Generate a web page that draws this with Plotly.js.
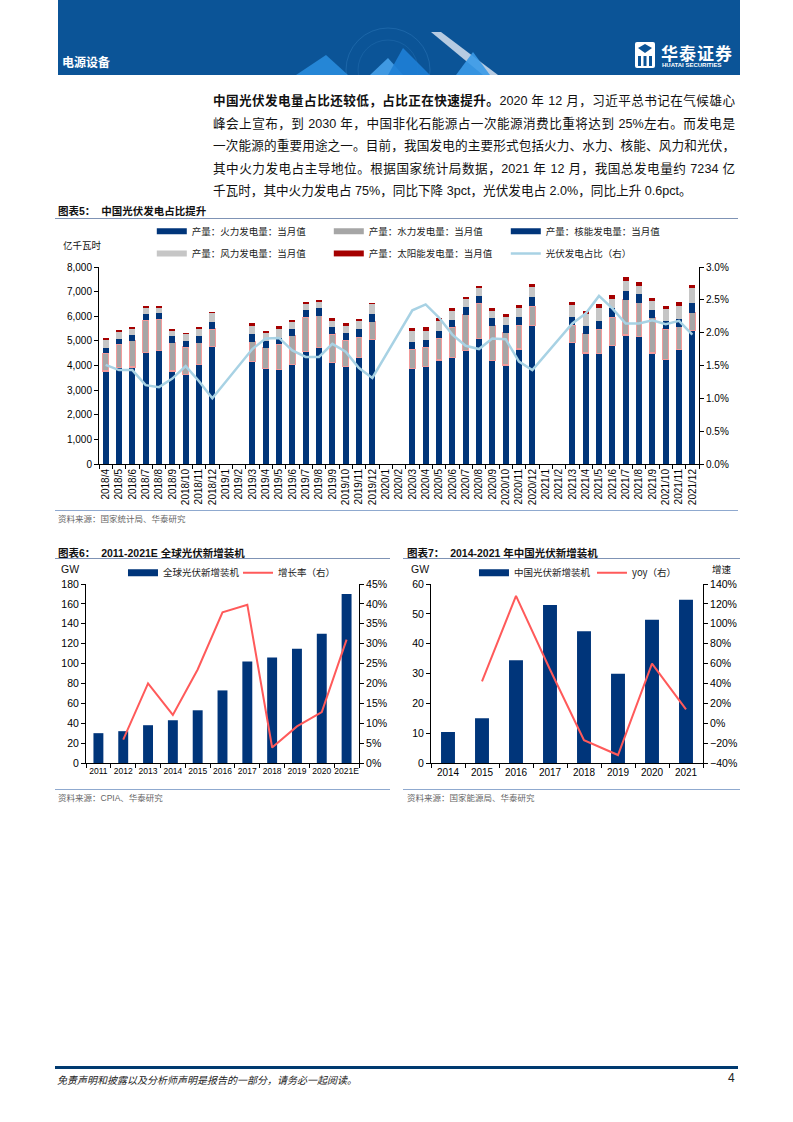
<!DOCTYPE html>
<html><head><meta charset="utf-8">
<script src="https://cdn.plot.ly/plotly-3.0.1.min.js"></script>
<style>
body{margin:0;background:#fff;}
#page{position:relative;width:793px;height:1122px;overflow:hidden;background:#fff;font-family:"Liberation Sans","Noto Sans CJK SC",sans-serif;color:#111;}
.abs{position:absolute;}
.tl{position:absolute;left:213px;width:522px;font-size:12.6px;line-height:22.5px;height:22.5px;text-align:justify;text-align-last:justify;color:#111;}
.ctitle{position:absolute;font-size:10.5px;font-weight:bold;color:#111;white-space:nowrap;}
.hline{position:absolute;height:0;border-top:1px solid #7f93b5;}
.src{position:absolute;font-size:8.5px;color:#666;white-space:nowrap;}
</style></head>
<body><div id="page">
<!-- banner -->
<div class="abs" style="left:58px;top:0;width:682px;height:75px;background:#0b5497;overflow:hidden;">
<svg width="682" height="75" style="position:absolute;left:0;top:0">
  <circle cx="330" cy="70" r="42" fill="none" stroke="#3b86c8" stroke-width="0.6" opacity="0.6"/>
  <circle cx="330" cy="70" r="30" fill="none" stroke="#3b86c8" stroke-width="0.5" opacity="0.5"/>
  <polygon points="238,75 268,55 290,75" fill="#2a8fe0" opacity="0.85"/>
  <polygon points="312,75 330,58 345,75" fill="#4aa6ee" opacity="0.85"/>
  <polygon points="330,75 345,48 372,75" fill="#1e7fd6" opacity="0.9"/>
  <polygon points="373,32 383,32 440,75 425,75" fill="#c9d8ea" opacity="0.9"/>
  <polygon points="398,75 415,52 432,75" fill="#3a9ae8" opacity="0.9"/>
</svg>
<div class="abs" style="left:4px;top:53px;font-size:12px;font-weight:bold;color:#fff;">电源设备</div>
<svg class="abs" style="left:577px;top:42px" width="20" height="26">
  <rect x="0" y="0" width="20" height="26" rx="2" fill="#fff"/>
  <polygon points="3,6 10,2 17,6 10,11" fill="#0b5497"/>
  <rect x="3" y="14" width="3" height="10" fill="#0b5497"/>
  <rect x="8.5" y="14" width="3" height="10" fill="#0b5497"/>
  <rect x="14" y="14" width="3" height="10" fill="#0b5497"/>
</svg>
<div class="abs" style="left:603px;top:40px;font-size:17px;font-weight:bold;color:#fff;letter-spacing:1px;white-space:nowrap;">华泰证券</div>
<div class="abs" style="left:604px;top:62px;font-size:6px;font-weight:bold;color:#fff;white-space:nowrap;">HUATAI SECURITIES</div>
</div>

<!-- paragraph -->
<div class="tl" style="top:90px;"><b>中国光伏发电量占比还较低，占比正在快速提升。</b>2020 年 12 月，习近平总书记在气候雄心</div>
<div class="tl" style="top:112.5px;">峰会上宣布，到 2030 年，中国非化石能源占一次能源消费比重将达到 25%左右。而发电是</div>
<div class="tl" style="top:135px;">一次能源的重要用途之一。目前，我国发电的主要形式包括火力、水力、核能、风力和光伏，</div>
<div class="tl" style="top:157.5px;">其中火力发电占主导地位。根据国家统计局数据，2021 年 12 月，我国总发电量约 7234 亿</div>
<div class="tl" style="top:180px;text-align-last:left;">千瓦时，其中火力发电占 75%，同比下降 3pct，光伏发电占 2.0%，同比上升 0.6pct。</div>

<!-- chart 5 -->
<div class="ctitle" style="left:58px;top:203px;">图表5：&nbsp; 中国光伏发电占比提升</div>
<div class="hline" style="left:55px;top:218px;width:683px;"></div>
<div id="c5" class="abs" style="left:55px;top:222px;width:685px;height:286px;"></div>
<div class="hline" style="left:55px;top:510px;width:683px;border-color:#8fa9cf;"></div>
<div class="src" style="left:58px;top:512px;">资料来源：国家统计局、华泰研究</div>

<!-- chart 6 -->
<div class="ctitle" style="left:58px;top:545px;">图表6：&nbsp; 2011-2021E 全球光伏新增装机</div>
<div class="hline" style="left:55px;top:558px;width:335px;"></div>
<div id="c6" class="abs" style="left:55px;top:560px;width:340px;height:225px;"></div>
<div class="hline" style="left:55px;top:789px;width:335px;border-color:#8fa9cf;"></div>
<div class="src" style="left:58px;top:791px;">资料来源：CPIA、华泰研究</div>

<!-- chart 7 -->
<div class="ctitle" style="left:407px;top:545px;">图表7：&nbsp; 2014-2021 年中国光伏新增装机</div>
<div class="hline" style="left:403px;top:558px;width:337px;"></div>
<div id="c7" class="abs" style="left:400px;top:560px;width:345px;height:225px;"></div>
<div class="hline" style="left:403px;top:789px;width:337px;border-color:#8fa9cf;"></div>
<div class="src" style="left:407px;top:791px;">资料来源：国家能源局、华泰研究</div>

<!-- footer -->
<div class="abs" style="left:55px;top:1066px;width:683px;height:3px;background:#003a70;"></div>
<div class="abs" style="left:57px;top:1072px;font-size:10px;font-style:italic;color:#222;white-space:nowrap;">免责声明和披露以及分析师声明是报告的一部分，请务必一起阅读。</div>
<div class="abs" style="left:728px;top:1071px;font-size:12px;color:#222;">4</div>
</div>

<script>
// ---------- Chart 5 data ----------
var months = ['2018/4','2018/5','2018/6','2018/7','2018/8','2018/9','2018/10','2018/11','2018/12',
  '2019/1','2019/2','2019/3','2019/4','2019/5','2019/6','2019/7','2019/8','2019/9','2019/10','2019/11','2019/12',
  '2020/1','2020/2','2020/3','2020/4','2020/5','2020/6','2020/7','2020/8','2020/9','2020/10','2020/11','2020/12',
  '2021/1','2021/2','2021/3','2021/4','2021/5','2021/6','2021/7','2021/8','2021/9','2021/10','2021/11','2021/12'];
var thermal = [3780,3910,3940,4530,4600,3780,3630,4050,4760, null,null, 4160,3890,3830,4050,4560,4720,4130,3950,4320,5070, null,null, 3890,3970,4220,4320,4600,5100,4210,4020,4670,5640, null,null, 4940,4510,4490,4800,5240,5180,4510,4260,4640,5430];
var hydro = [710,950,1070,1300,1280,1150,1120,880,720, null,null, 810,830,1030,1160,1390,1300,1150,1080,820,710, null,null, 770,770,880,1240,1470,1420,1400,1320,970,770, null,null, 700,780,990,1160,1430,1370,1430,1220,930,720];
var nuclear = [210,230,230,260,270,250,240,250,300, null,null, 290,270,270,270,300,320,290,300,340,310, null,null, 310,310,300,280,310,310,330,300,310,380, null,null, 340,320,320,360,370,350,320,320,300,370];
var wind = [330,270,240,230,170,220,270,310,350, null,null, 350,350,350,270,230,250,250,280,320,390, null,null, 430,370,420,370,310,300,290,350,390,400, null,null, 470,500,520,400,410,330,350,480,550,610];
var solar = [80,90,80,90,90,90,80,70,60, null,null, 100,80,110,90,80,90,90,100,80,70, null,null, 130,140,120,110,110,100,90,100,110,100, null,null, 140,110,160,140,130,170,140,120,140,130];
var pvShare = [1.51,1.43,1.43,1.20,1.17,1.30,1.49,1.26,1.00, null,null, 1.75,1.91,1.92,1.73,1.63,1.63,1.83,1.71,1.46,1.31, null,null, 2.34,2.43,2.23,1.97,1.80,1.75,1.91,1.90,1.56,1.43, null,null, 2.14,2.29,2.56,2.37,2.14,2.14,2.19,2.13,2.18,1.97];
var names5 = ['产量：火力发电量：当月值','产量：水力发电量：当月值','产量：核能发电量：当月值','产量：风力发电量：当月值','产量：太阳能发电量：当月值','光伏发电占比（右）'];

// ---------- Chart 6 data ----------
var years6 = ['2011','2012','2013','2014','2015','2016','2017','2018','2019','2020','2021E'];
var globalAdd = [30,32,38,43,53,73,102,106,115,130,170];
var globalGrowth = [null,5.9,20.0,12.1,23.5,37.9,39.8,3.9,9.2,12.8,31.0];
var names6 = ['全球光伏新增装机','增长率（右）'];

// ---------- Chart 7 data ----------
var years7 = ['2014','2015','2016','2017','2018','2019','2020','2021'];
var chinaAdd = [10.4,15.0,34.4,53.0,44.2,29.9,48.0,54.7];
var chinaYoy = [null,42,128,54,-17,-32,60,14];
var names7 = ['中国光伏新增装机','yoy（右）'];

var BLUE = '#00357a', HYDRO = '#a6a6a6', HYDROLINE = '#f29a9a', WIND = '#c6c6c6', SOLAR = '#a50000', PVLINE = '#a8d2e4', RED = '#ff5a5a';
var FONT = 'Liberation Sans, Noto Sans CJK SC, sans-serif';
var CJK = 'Noto Sans CJK SC, sans-serif';
var cfg = {staticPlot:true, displayModeBar:false};

function legendEntry(name, color, width, leg){
  return {type:'scatter', mode:'lines', x:[null], y:[null], name:name, line:{color:color, width:width}, legend:leg, showlegend:true, hoverinfo:'skip'};
}
function axisBase(){
  return {showline:true, linecolor:'#000', linewidth:1, ticks:'outside', ticklen:4, tickcolor:'#000', showgrid:false, zeroline:false, tickfont:{family:FONT, size:10, color:'#000'}};
}
function legendBase(x, y, ew){
  return {orientation:'h', x:x, xanchor:'left', y:y, yanchor:'middle', entrywidth:ew, entrywidthmode:'pixels', itemwidth:30,
    traceorder:'normal', bgcolor:'rgba(0,0,0,0)', font:{family:CJK, size:9.5, color:'#222'}};
}
function note(x, y, text, fam, size){
  return {xref:'paper', yref:'paper', x:x, y:y, xanchor:'center', yanchor:'middle', text:text, showarrow:false, font:{family:fam, size:size, color:'#111'}};
}

// Chart 5
var t5 = [
  {type:'bar', x:months, y:thermal, marker:{color:BLUE}, showlegend:false},
  {type:'bar', x:months, y:hydro, marker:{color:HYDRO, line:{color:HYDROLINE, width:1.2}}, showlegend:false},
  {type:'bar', x:months, y:nuclear, marker:{color:BLUE}, showlegend:false},
  {type:'bar', x:months, y:wind, marker:{color:WIND}, showlegend:false},
  {type:'bar', x:months, y:solar, marker:{color:SOLAR}, showlegend:false},
  legendEntry(names5[0], BLUE, 6, 'legend'),
  legendEntry(names5[1], HYDRO, 6, 'legend'),
  legendEntry(names5[2], BLUE, 6, 'legend'),
  legendEntry(names5[3], WIND, 6, 'legend2'),
  legendEntry(names5[4], SOLAR, 6, 'legend2'),
  {type:'scatter', mode:'lines', x:months, y:pvShare, yaxis:'y2', connectgaps:true, name:names5[5], line:{color:PVLINE, width:2.5}, legend:'legend2'}
];
var x5 = axisBase(); x5.type='category'; x5.tickangle=-90; x5.tickson='boundaries'; x5.tickfont={family:FONT,size:10,color:'#000'};
var y5 = axisBase(); y5.range=[0,8000]; y5.dtick=1000; y5.tickformat=',';
var y52 = axisBase(); y52.overlaying='y'; y52.side='right'; y52.range=[0,3]; y52.dtick=0.5; y52.tickformat='.1f'; y52.ticksuffix='%';
Plotly.newPlot('c5', t5, {
  width:685, height:286, margin:{l:44, r:41, t:44.7, b:43.7, autoexpand:false},
  paper_bgcolor:'rgba(0,0,0,0)', plot_bgcolor:'rgba(0,0,0,0)', font:{family:FONT},
  barmode:'stack', bargap:0.57,
  xaxis:x5, yaxis:y5, yaxis2:y52,
  legend:legendBase(0.088, 1.181, 132), legend2:legendBase(0.088, 1.069, 132),
  annotations:[note(-0.027, 1.11, '亿千瓦时', CJK, 9.5)]
}, cfg);

// Chart 6
var t6 = [
  {type:'bar', x:years6, y:globalAdd, marker:{color:BLUE}, showlegend:false},
  legendEntry(names6[0], BLUE, 7, 'legend'),
  {type:'scatter', mode:'lines', x:years6, y:globalGrowth, yaxis:'y2', name:names6[1], line:{color:RED, width:2}}
];
var x6 = axisBase(); x6.type='category'; x6.tickson='boundaries'; x6.tickangle=0; x6.tickfont={family:FONT,size:8.5,color:'#000'};
var y6 = axisBase(); y6.range=[0,180]; y6.dtick=20; y6.tickfont={family:FONT,size:10.5,color:'#000'};
var y62 = axisBase(); y62.overlaying='y'; y62.side='right'; y62.range=[0,45]; y62.dtick=5; y62.ticksuffix='%'; y62.tickfont={family:FONT,size:10.5,color:'#000'};
Plotly.newPlot('c6', t6, {
  width:340, height:225, margin:{l:31, r:36, t:24.3, b:21.7, autoexpand:false},
  paper_bgcolor:'rgba(0,0,0,0)', plot_bgcolor:'rgba(0,0,0,0)', font:{family:FONT},
  bargap:0.6, xaxis:x6, yaxis:y6, yaxis2:y62,
  legend:legendBase(0.1355, 1.063, 70),
  annotations:[note(-0.059, 1.086, 'GW', FONT, 10.5)]
}, cfg);

// Chart 7
var t7 = [
  {type:'bar', x:years7, y:chinaAdd, marker:{color:BLUE}, showlegend:false},
  legendEntry(names7[0], BLUE, 7, 'legend'),
  {type:'scatter', mode:'lines', x:years7, y:chinaYoy, yaxis:'y2', name:names7[1], line:{color:RED, width:2}}
];
var x7 = axisBase(); x7.type='category'; x7.tickson='boundaries'; x7.tickangle=0; x7.tickfont={family:FONT,size:10,color:'#000'};
var y7 = axisBase(); y7.range=[0,60]; y7.dtick=10; y7.tickfont={family:FONT,size:10.5,color:'#000'};
var y72 = axisBase(); y72.overlaying='y'; y72.side='right'; y72.range=[-40,140]; y72.dtick=20; y72.ticksuffix='%'; y72.tickfont={family:FONT,size:10.5,color:'#000'};
Plotly.newPlot('c7', t7, {
  width:345, height:225, margin:{l:31, r:42.3, t:24.3, b:21.7, autoexpand:false},
  paper_bgcolor:'rgba(0,0,0,0)', plot_bgcolor:'rgba(0,0,0,0)', font:{family:FONT},
  bargap:0.59, xaxis:x7, yaxis:y7, yaxis2:y72,
  legend:legendBase(0.158, 1.063, 73),
  annotations:[note(-0.04, 1.086, 'GW', FONT, 10.5), note(1.07, 1.086, '增速', CJK, 9.5)]
}, cfg);
</script>
</body></html>
